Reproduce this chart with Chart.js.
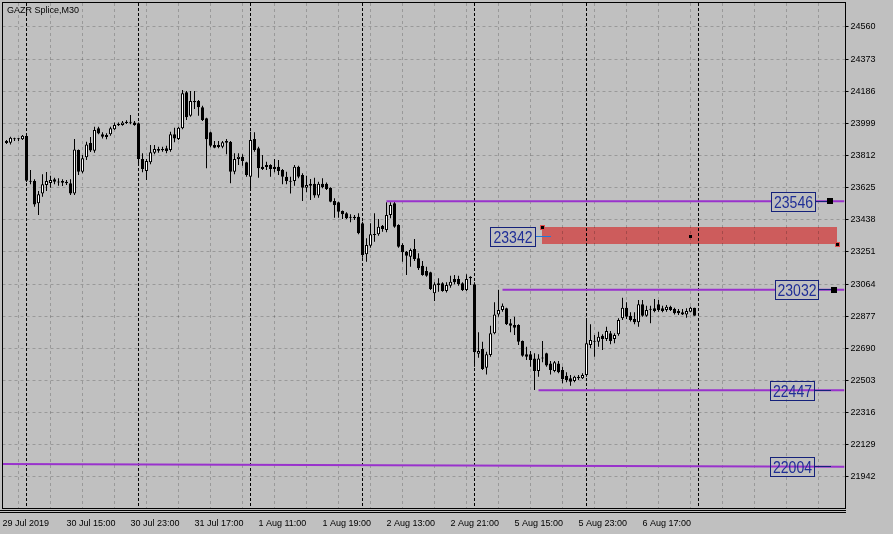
<!DOCTYPE html>
<html><head><meta charset="utf-8">
<script src="https://cdn.jsdelivr.net/npm/chart.js@4/dist/chart.umd.min.js"></script>
<style>html,body{margin:0;padding:0;background:#c0c0c0;overflow:hidden}#wrap{width:893px;height:534px;position:relative}</style>
</head><body><div id="wrap"><canvas id="c"></canvas></div>
<script>
const symbolTitle = 'GAZR Splice,M30';
const firstBar = -5;
const opens = [23897,23887,23908,23907,23907,23926,23666,23664,23534,23592,23641,23652,23674,23657,23664,23660,23651,23592,23844,23718,23802,23885,23840,23971,23936,23920,23936,23965,23996,23990,24009,24009,24005,24000,23792,23722,23773,23829,23850,23850,23854,23844,23936,23908,23971,24180,24044,24129,24129,24093,24029,23947,23873,23873,23864,23897,23893,23718,23792,23805,23773,23689,23908,23854,23747,23757,23757,23747,23747,23728,23689,23664,23664,23747,23699,23625,23648,23648,23579,23648,23648,23625,23548,23540,23489,23476,23456,23456,23456,23418,23238,23288,23354,23354,23404,23379,23466,23534,23408,23292,23253,23224,23268,23214,23171,23140,23133,23011,23069,23069,23024,23055,23094,23094,23069,23030,23107,23063,22659,22687,22578,22652,22778,22888,22913,22923,22836,22826,22826,22733,22656,22656,22632,22559,22636,22662,22603,22559,22603,22564,22531,22516,22500,22525,22516,22535,22710,22733,22729,22764,22745,22778,22745,22772,22865,22927,22880,22861,22842,22947,22880,22919,22923,22947,22923,22913,22933,22919,22908,22900,22888,22904,22927];
const highs = [23902,23922,23916,23914,23932,23932,23728,23674,23606,23703,23716,23695,23683,23680,23674,23670,23674,23908,23848,23815,23893,23920,23980,23980,23947,23942,23980,24005,24005,24013,24017,24048,24013,24005,23825,23792,23873,23873,23864,23864,23869,23951,23974,23980,24193,24188,24188,24188,24135,24102,24032,23951,23897,23897,23897,23908,23897,23825,23825,23819,23776,23951,23947,23864,23815,23776,23761,23792,23786,23734,23718,23689,23757,23753,23709,23695,23676,23683,23660,23680,23656,23628,23563,23544,23492,23482,23470,23466,23476,23427,23331,23418,23476,23443,23408,23540,23540,23544,23412,23302,23257,23272,23327,23243,23199,23165,23136,23075,23098,23075,23075,23113,23117,23113,23075,23121,23110,23075,22784,22729,22671,22822,22958,23032,22952,22927,22861,22874,22830,22736,22700,22675,22662,22656,22733,22665,22617,22617,22617,22584,22551,22535,22531,22535,22545,22865,22830,22768,22787,22772,22816,22791,22778,22865,22985,22958,22900,22900,22972,22972,22938,22938,22977,22972,22938,22943,22938,22927,22919,22919,22923,22933,22927];
const lows = [23879,23877,23897,23897,23902,23658,23645,23514,23466,23573,23606,23625,23645,23637,23635,23641,23583,23583,23699,23709,23786,23833,23829,23936,23912,23907,23928,23961,23984,23986,23996,23994,23986,23753,23715,23670,23761,23819,23829,23834,23825,23834,23889,23902,23965,24019,24038,24083,24044,24013,23738,23860,23854,23854,23854,23819,23651,23703,23757,23753,23689,23606,23834,23683,23728,23728,23689,23715,23699,23645,23645,23592,23637,23680,23548,23598,23553,23567,23567,23622,23612,23540,23450,23450,23443,23443,23424,23437,23354,23218,23194,23276,23311,23346,23369,23366,23447,23392,23276,23194,23117,23165,23199,23146,23113,23107,23030,22966,23020,23020,23016,23043,23063,23055,23024,23024,23059,22584,22636,22564,22539,22642,22772,22874,22904,22826,22784,22768,22710,22642,22623,22584,22448,22525,22609,22584,22539,22551,22545,22487,22493,22473,22493,22506,22512,22525,22691,22642,22700,22681,22733,22714,22720,22764,22855,22861,22846,22830,22816,22874,22874,22836,22900,22904,22900,22904,22908,22888,22884,22884,22869,22900,22880];
const closes = [23885,23916,23907,23909,23928,23666,23660,23528,23587,23645,23664,23670,23660,23655,23654,23651,23592,23848,23718,23796,23877,23841,23961,23941,23922,23932,23971,23990,23988,24005,24001,24003,23990,23792,23734,23780,23831,23850,23840,23843,23839,23936,23912,23974,24174,24035,24129,24122,24093,24019,23907,23869,23858,23862,23889,23887,23718,23792,23805,23780,23699,23902,23844,23738,23734,23745,23734,23734,23722,23689,23664,23660,23747,23689,23625,23641,23637,23579,23648,23629,23617,23544,23524,23485,23470,23447,23450,23447,23360,23233,23292,23354,23350,23398,23385,23466,23524,23398,23282,23249,23229,23263,23210,23156,23117,23113,23036,23063,23059,23024,23059,23078,23075,23063,23030,23094,23098,22668,22675,22570,22656,22778,22888,22913,22938,22830,22822,22810,22729,22648,22642,22623,22559,22632,22632,22590,22564,22609,22551,22512,22506,22496,22525,22516,22535,22720,22739,22729,22758,22745,22791,22733,22768,22855,22927,22874,22855,22842,22947,22880,22913,22915,22908,22913,22908,22933,22913,22894,22894,22888,22908,22927,22880];
const timeLabels = ['29 Jul 2019','30 Jul 15:00','30 Jul 23:00','31 Jul 17:00','1 Aug 11:00','1 Aug 19:00','2 Aug 13:00','2 Aug 21:00','5 Aug 15:00','5 Aug 23:00','6 Aug 17:00'];
const timeLabelBars = [-6,10,26,42,58,74,90,106,122,138,154];
const daySeparatorBars = [0,28,56,84,112,140,168];
const priceTicks = [21942,22129,22316,22503,22690,22877,23064,23251,23438,23625,23812,23999,24186,24373,24560];
const levelPrices = [23546,23032,22447];
const levelStartBars = [90,119,128];
const trendPrices = [22018,22002];
const trendBars = [-6,204.5];
const trendLabel = 22004;
const zonePrices = [23396,23297];
const zoneBars = [128.9,202.6];
const zoneLabel = 23342;

const X_MIN = -6, X_MAX = 204.5;
const PURPLE = '#9932cc';
const BOX_TEXT = '#1f2e96';
const BOX_BORDER = '#14217a';
const GRID = 'rgba(0,0,0,0.2)';

const barIdx = opens.map((_, i) => firstBar + i);
const wickData = barIdx.map((b, i) => ({x: b, y: [lows[i], highs[i]]}));
const bodyData = barIdx.map((b, i) => ({x: b, y: [opens[i], closes[i]]}));
const bodyFill = barIdx.map((_, i) => closes[i] > opens[i] ? '#ffffff' : '#000000');

const lineSets = levelPrices.map((p, i) => ({
  type: 'line', data: [{x: levelStartBars[i], y: p}, {x: X_MAX, y: p}],
  borderColor: PURPLE, borderWidth: 2, pointRadius: 0, order: 0, tension: 0
}));
lineSets.push({
  type: 'line', data: [{x: trendBars[0], y: trendPrices[0]}, {x: trendBars[1], y: trendPrices[1]}],
  borderColor: PURPLE, borderWidth: 2, pointRadius: 0, order: 0, tension: 0
});

function priceBox(ctx, text, yMid, left, right, h, fill) {
  const top = Math.round(yMid - h / 2) + 0.5;
  if (fill) { ctx.fillStyle = '#c0c0c0'; ctx.fillRect(left, top, right - left, h); }
  ctx.strokeStyle = BOX_BORDER; ctx.lineWidth = 1; ctx.setLineDash([]);
  ctx.strokeRect(left + 0.5, top, right - left, h);
  ctx.fillStyle = BOX_TEXT;
  ctx.font = "17px 'Liberation Sans Narrow', 'Liberation Sans', sans-serif";
  ctx.textAlign = 'center'; ctx.textBaseline = 'middle';
  const w = ctx.measureText(text).width;
  const target = 39;
  ctx.save();
  ctx.translate((left + right) / 2 + 0.5, top + h / 2 + 1);
  ctx.scale(Math.min(1, target / w), 1);
  ctx.fillText(text, 0, 0);
  ctx.restore();
}

const mt4 = {
  id: 'mt4',
  beforeDraw(chart) {
    const {ctx, scales: {x, y}} = chart;
    ctx.save();
    ctx.fillStyle = '#c0c0c0';
    ctx.fillRect(0, 0, chart.width, chart.height);
    const zx1 = Math.round(x.getPixelForValue(zoneBars[0])), zx2 = Math.round(x.getPixelForValue(zoneBars[1]));
    const zy1 = Math.round(y.getPixelForValue(zonePrices[0])), zy2 = Math.round(y.getPixelForValue(zonePrices[1]));
    ctx.fillStyle = '#cd5c5c';
    ctx.fillRect(zx1, zy1, zx2 - zx1, zy2 - zy1);
    ctx.restore();
  },
  beforeDatasetsDraw(chart) {
    const {ctx, chartArea: a, scales: {x}} = chart;
    ctx.save();
    ctx.strokeStyle = '#000'; ctx.lineWidth = 1; ctx.setLineDash([3, 2]);
    daySeparatorBars.forEach(b => {
      const px = Math.round(x.getPixelForValue(b) - 0.5) + 0.5;
      ctx.beginPath(); ctx.moveTo(px, a.top); ctx.lineTo(px, a.bottom); ctx.stroke();
    });
    ctx.restore();
  },
  afterDatasetsDraw(chart) {
    const {ctx, scales: {x, y}} = chart;
    ctx.save();
    const boxes = [
      {v: levelPrices[0], l: 771, r: 815, end: 830, sq: true, fill: true},
      {v: levelPrices[1], l: 775, r: 818, end: 834, sq: true, fill: true},
      {v: levelPrices[2], l: 770, r: 814, end: 831, sq: false, fill: false},
      {v: trendLabel, l: 770, r: 814, end: 831, sq: false, fill: false}
    ];
    boxes.forEach(b => {
      const py = y.getPixelForValue(b.v);
      const ly = Math.round(py - 0.5) + 0.5;
      ctx.strokeStyle = BOX_BORDER; ctx.lineWidth = 1; ctx.setLineDash([]);
      ctx.beginPath(); ctx.moveTo(b.r, ly); ctx.lineTo(b.end, ly); ctx.stroke();
      if (b.sq) { ctx.fillStyle = '#000'; ctx.fillRect(b.end - 3, Math.round(py) - 3, 6, 6); }
      priceBox(ctx, String(b.v), py, b.l, b.r, 19, b.fill);
    });
    const zy = y.getPixelForValue(zoneLabel);
    const zl = Math.round(zy - 0.5) + 0.5;
    ctx.strokeStyle = '#1e78dc'; ctx.lineWidth = 1;
    ctx.beginPath(); ctx.moveTo(535, zl); ctx.lineTo(551, zl); ctx.stroke();
    priceBox(ctx, String(zoneLabel), zy, 490, 535, 19, true);
    const zx1 = Math.round(x.getPixelForValue(zoneBars[0])), zx2 = Math.round(x.getPixelForValue(zoneBars[1]));
    const zy1 = Math.round(y.getPixelForValue(zonePrices[0])), zy2 = Math.round(y.getPixelForValue(zonePrices[1]));
    const anchor = (cx, cy, red) => {
      if (red) { ctx.fillStyle = '#e05050'; ctx.fillRect(cx - 2, cy - 2, 5, 5); }
      ctx.fillStyle = '#000'; ctx.fillRect(cx - 1, cy - 1, 3, 3);
    };
    anchor(zx1, zy1, true);
    anchor(zx2, zy2, true);
    anchor(Math.round((zx1 + zx2) / 2), Math.round((zy1 + zy2) / 2), false);
    ctx.restore();
  },
  afterDraw(chart) {
    const {ctx} = chart;
    ctx.save();
    ctx.strokeStyle = '#000'; ctx.lineWidth = 1; ctx.setLineDash([]);
    ctx.strokeRect(2.5, 2.5, 843, 506);
    ctx.beginPath();
    ctx.moveTo(0, 510.5); ctx.lineTo(846, 510.5);
    ctx.moveTo(0, 512.5); ctx.lineTo(846, 512.5);
    ctx.stroke();
    ctx.fillStyle = '#000';
    ctx.font = "9px 'Liberation Sans', Arial, sans-serif";
    ctx.textAlign = 'left'; ctx.textBaseline = 'top';
    ctx.fillText(symbolTitle, 7, 6);
    ctx.restore();
  }
};

new Chart(document.getElementById('c'), {
  type: 'bar',
  data: {
    datasets: [
      {type: 'bar', data: bodyData, backgroundColor: bodyFill, borderColor: '#000', borderWidth: 1,
       borderSkipped: false, barThickness: 3, grouped: false, minBarLength: 1, inflateAmount: 0, order: 1},
      {type: 'bar', data: wickData, backgroundColor: '#000', borderWidth: 0,
       barThickness: 1, grouped: false, inflateAmount: 0, order: 2},
      ...lineSets
    ]
  },
  options: {
    responsive: true, maintainAspectRatio: false, animation: false,
    layout: {padding: {left: 2.5, top: 3, right: 0, bottom: 0}},
    plugins: {legend: {display: false}, tooltip: {enabled: false}, title: {display: false}},
    scales: {
      x: {
        type: 'linear', min: X_MIN, max: X_MAX, offset: false,
        afterBuildTicks: s => { const t = []; for (let v = -6; v <= 204; v += 8) t.push({value: v}); s.ticks = t; },
        afterFit: s => { s.height = 26; s.paddingLeft = 0; s.paddingRight = 0; },
        grid: {color: GRID, lineWidth: 1, drawTicks: false, tickLength: 0},
        border: {display: false, dash: [3, 3]},
        ticks: {
          autoSkip: false, maxRotation: 0, minRotation: 0, align: 'start', padding: 10, color: '#000',
          font: {family: "'Liberation Sans', Arial, sans-serif", size: 9},
          callback: v => { const k = timeLabelBars.indexOf(v); return k >= 0 ? timeLabels[k] : ''; }
        }
      },
      y: {
        type: 'linear', position: 'right', min: 21761.6, max: 24699.6,
        afterBuildTicks: s => { s.ticks = priceTicks.map(v => ({value: v})); },
        afterFit: s => { s.width = 48.5; s.paddingTop = 0; s.paddingBottom = 0; },
        grid: {color: GRID, lineWidth: 1, drawTicks: true, tickLength: 4, tickColor: '#000', tickBorderDash: []},
        border: {display: false, dash: [3, 3]},
        ticks: {
          autoSkip: false, padding: 2, color: '#000',
          font: {family: "'Liberation Sans', Arial, sans-serif", size: 9},
          callback: v => String(v)
        }
      }
    }
  },
  plugins: [mt4]
});
</script>
</body></html>
